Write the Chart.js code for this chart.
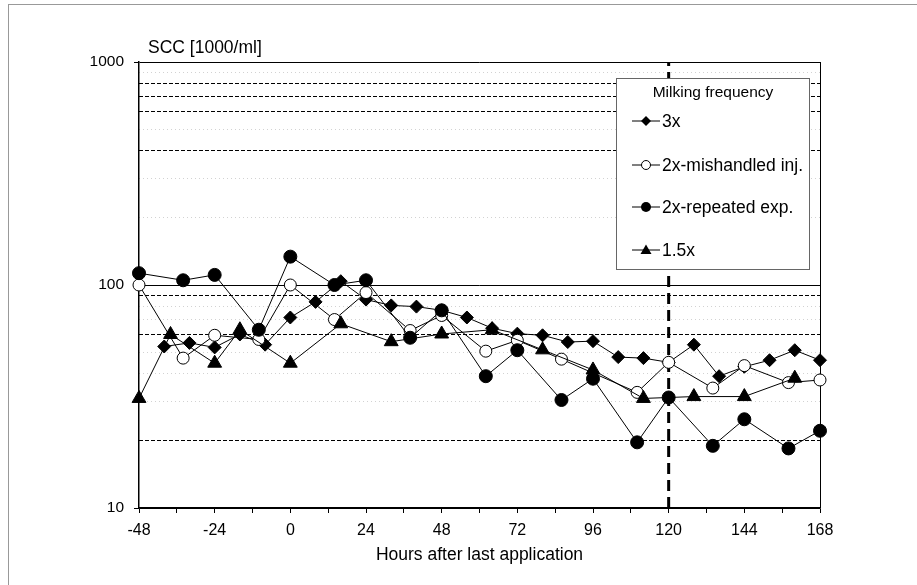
<!DOCTYPE html>
<html>
<head>
<meta charset="utf-8">
<script src="https://cdn.jsdelivr.net/npm/chart.js@4/dist/chart.umd.min.js"></script>
<style>
  body { margin: 0; background: #fff; font-family: "Liberation Sans", Arial, sans-serif; }
  #wrap { position: relative; width: 917px; height: 585px; overflow: hidden; }
  #frame { position: absolute; left: 8px; top: 4px; width: 1000px; height: 1000px; border-top: 1px solid #999; border-left: 1px solid #999; }
  #ytitle { position: absolute; left: 148px; top: 37px; font-size: 17.5px; line-height: 20px; color: #000; }
  #legend { position: absolute; left: 616px; top: 78px; width: 194px; height: 192px; box-sizing: border-box;
            border: 1.5px solid #666; background: #fff; }
  #legend .title { position: absolute; left: 0; width: 100%; top: 3px; text-align: center; font-size: 15.5px; line-height: 20px; }
  #legend .row { position: absolute; left: 15px; height: 20px; line-height: 20px; font-size: 17.5px; white-space: nowrap; }
  #legend svg { vertical-align: top; margin-top: 3px; }
</style>
</head>
<body>
<div id="wrap">
  <div id="frame"></div>
  <canvas id="chart" width="917" height="585"></canvas>
  <div id="ytitle">SCC [1000/ml]</div>
  <div id="legend"><div class="title">Milking frequency</div></div>
</div>
<script>
// hours after last application
const hours3x = [-40, -32, -24, -16, -8, 0, 8, 16, 24, 32, 40, 48, 56, 64, 72, 80, 88, 96, 104, 112, 120, 128, 136, 144, 152, 160, 168];
const scc3x   = [53, 55, 52.5, 60, 54, 71.5, 84, 104, 86, 81, 80, 77, 71.5, 64, 60.5, 59.5, 55.5, 56, 47.5, 47, 45, 54, 39, 43, 46, 51, 46];

const hoursMishandled = [-48, -34, -24, -10, 0, 14, 24, 38, 48, 62, 72, 86, 110, 120, 134, 144, 158, 168];
const sccMishandled   = [100, 47, 59.5, 57, 100, 70, 92.5, 62.5, 73, 50.5, 56.5, 46.5, 33, 45, 34.5, 43.5, 36.5, 37.5];

const hoursRepeated = [-48, -34, -24, -10, 0, 14, 24, 38, 48, 62, 72, 86, 96, 110, 120, 134, 144, 158, 168];
const sccRepeated   = [113, 105, 111, 63, 134, 100, 105, 58, 77, 39, 51, 30.5, 38, 19.7, 31.3, 19, 25, 18.5, 22.2];

const hours15x = [-48, -38, -24, -16, 0, 16, 32, 48, 64, 80, 96, 112, 128, 144, 160];
const scc15x   = [31, 60, 44.6, 63, 44.6, 67, 55.7, 60.3, 63, 51.2, 41.6, 31, 31.6, 31.6, 38.2];

const seriesNames = ['3x', '2x-mishandled inj.', '2x-repeated exp.', '1.5x'];

// axes
const yTicks = [10, 100, 1000];
const dashedLevels = [20, 60, 90, 400, 600, 700, 800];
const dottedLevels = [30, 40, 50, 70, 80, 200, 300, 500, 900];
const markHour = 120;

const pts = (xs, ys) => xs.map((x, i) => ({ x: x, y: ys[i] }));

const base = { borderColor: '#000', borderWidth: 1, pointBorderColor: '#000', pointBorderWidth: 1, clip: false, tension: 0 };

const datasets = [
  { ...base, label: seriesNames[0], data: pts(hours3x, scc3x), pointStyle: 'rectRot', pointRadius: 6.5, pointBackgroundColor: '#000', order: 3 },
  { ...base, label: seriesNames[1], data: pts(hoursMishandled, sccMishandled), pointStyle: 'circle', pointRadius: 6, pointBackgroundColor: '#fff', order: 2 },
  { ...base, label: seriesNames[2], data: pts(hoursRepeated, sccRepeated), pointStyle: 'circle', pointRadius: 6.5, pointBackgroundColor: '#000', order: 1 },
  { ...base, label: seriesNames[3], data: pts(hours15x, scc15x), pointStyle: 'triangle', pointRadius: 8, pointBackgroundColor: '#000', order: 0 },
  { label: 'mark', data: [{ x: markHour, y: yTicks[0] }, { x: markHour, y: yTicks[2] }], borderColor: '#000', borderWidth: 3,
    borderDash: [11, 6], pointRadius: 0, order: 9 }
];

const overlayAxis = (levels, color, dash) => ({
  type: 'logarithmic', position: 'left', min: 10, max: 1000,
  afterBuildTicks: s => { s.ticks = levels.map(v => ({ value: v })); },
  ticks: { display: false },
  grid: { drawTicks: false, color: color, lineWidth: 1 },
  border: { display: false, dash: dash }
});

new Chart(document.getElementById('chart'), {
  type: 'line',
  data: { datasets },
  options: {
    responsive: false,
    animation: false,
    layout: { padding: { left: 0, top: 62, right: 97, bottom: 0 } },
    plugins: { legend: { display: false }, tooltip: { enabled: false } },
    scales: {
      x: {
        type: 'linear', min: -48, max: 168,
        afterFit: s => { s.height = 77; },
        ticks: { stepSize: 12, autoSkip: false, maxRotation: 0, padding: 8, color: '#000',
                 font: { family: 'Liberation Sans', size: 16 },
                 callback: v => (v % 24 === 0 ? v : '') },
        grid: { color: c => (c.tick && c.tick.value === 168 ? '#000' : 'rgba(0,0,0,0)'), tickColor: '#000', tickLength: 5, lineWidth: 1 },
        border: { color: '#000', width: 1.5 },
        title: { display: true, text: 'Hours after last application', color: '#000',
                 font: { family: 'Liberation Sans', size: 17.5 }, padding: { top: 0, bottom: 19 } }
      },
      y: {
        type: 'logarithmic', min: 10, max: 1000,
        afterFit: s => { s.width = 139; },
        afterBuildTicks: s => { s.ticks = yTicks.map(v => ({ value: v })); },
        ticks: { padding: 10, color: '#000', font: { family: 'Liberation Sans', size: 15.5 }, callback: v => String(v) },
        grid: { color: '#000', tickColor: '#000', tickLength: 5, lineWidth: 1 },
        border: { color: '#000', width: 1.5 }
      },
      yDash: overlayAxis(dashedLevels, '#000', [4, 2]),
      yDot: overlayAxis(dottedLevels, '#d2d2d2', [1, 3])
    }
  }
});

// legend inside the plot, like the original
const legend = document.getElementById('legend');
const rowsY = [32, 76, 118, 161];
const markerSvg = [
  '<polygon points="14,2 19,7 14,12 9,7" fill="#000"/>',
  '<circle cx="14" cy="7" r="4.5" fill="#fff" stroke="#000"/>',
  '<circle cx="14" cy="7" r="5" fill="#000"/>',
  '<polygon points="14,1.5 19.5,11 8.5,11" fill="#000"/>'
];
seriesNames.forEach((name, i) => {
  const row = document.createElement('div');
  row.className = 'row';
  row.style.top = rowsY[i] + 'px';
  row.innerHTML = '<svg width="30" height="14"><line x1="0" y1="7" x2="28" y2="7" stroke="#000" stroke-width="1"/>' +
    markerSvg[i] + '</svg>' + name;
  legend.appendChild(row);
});
</script>
</body>
</html>
